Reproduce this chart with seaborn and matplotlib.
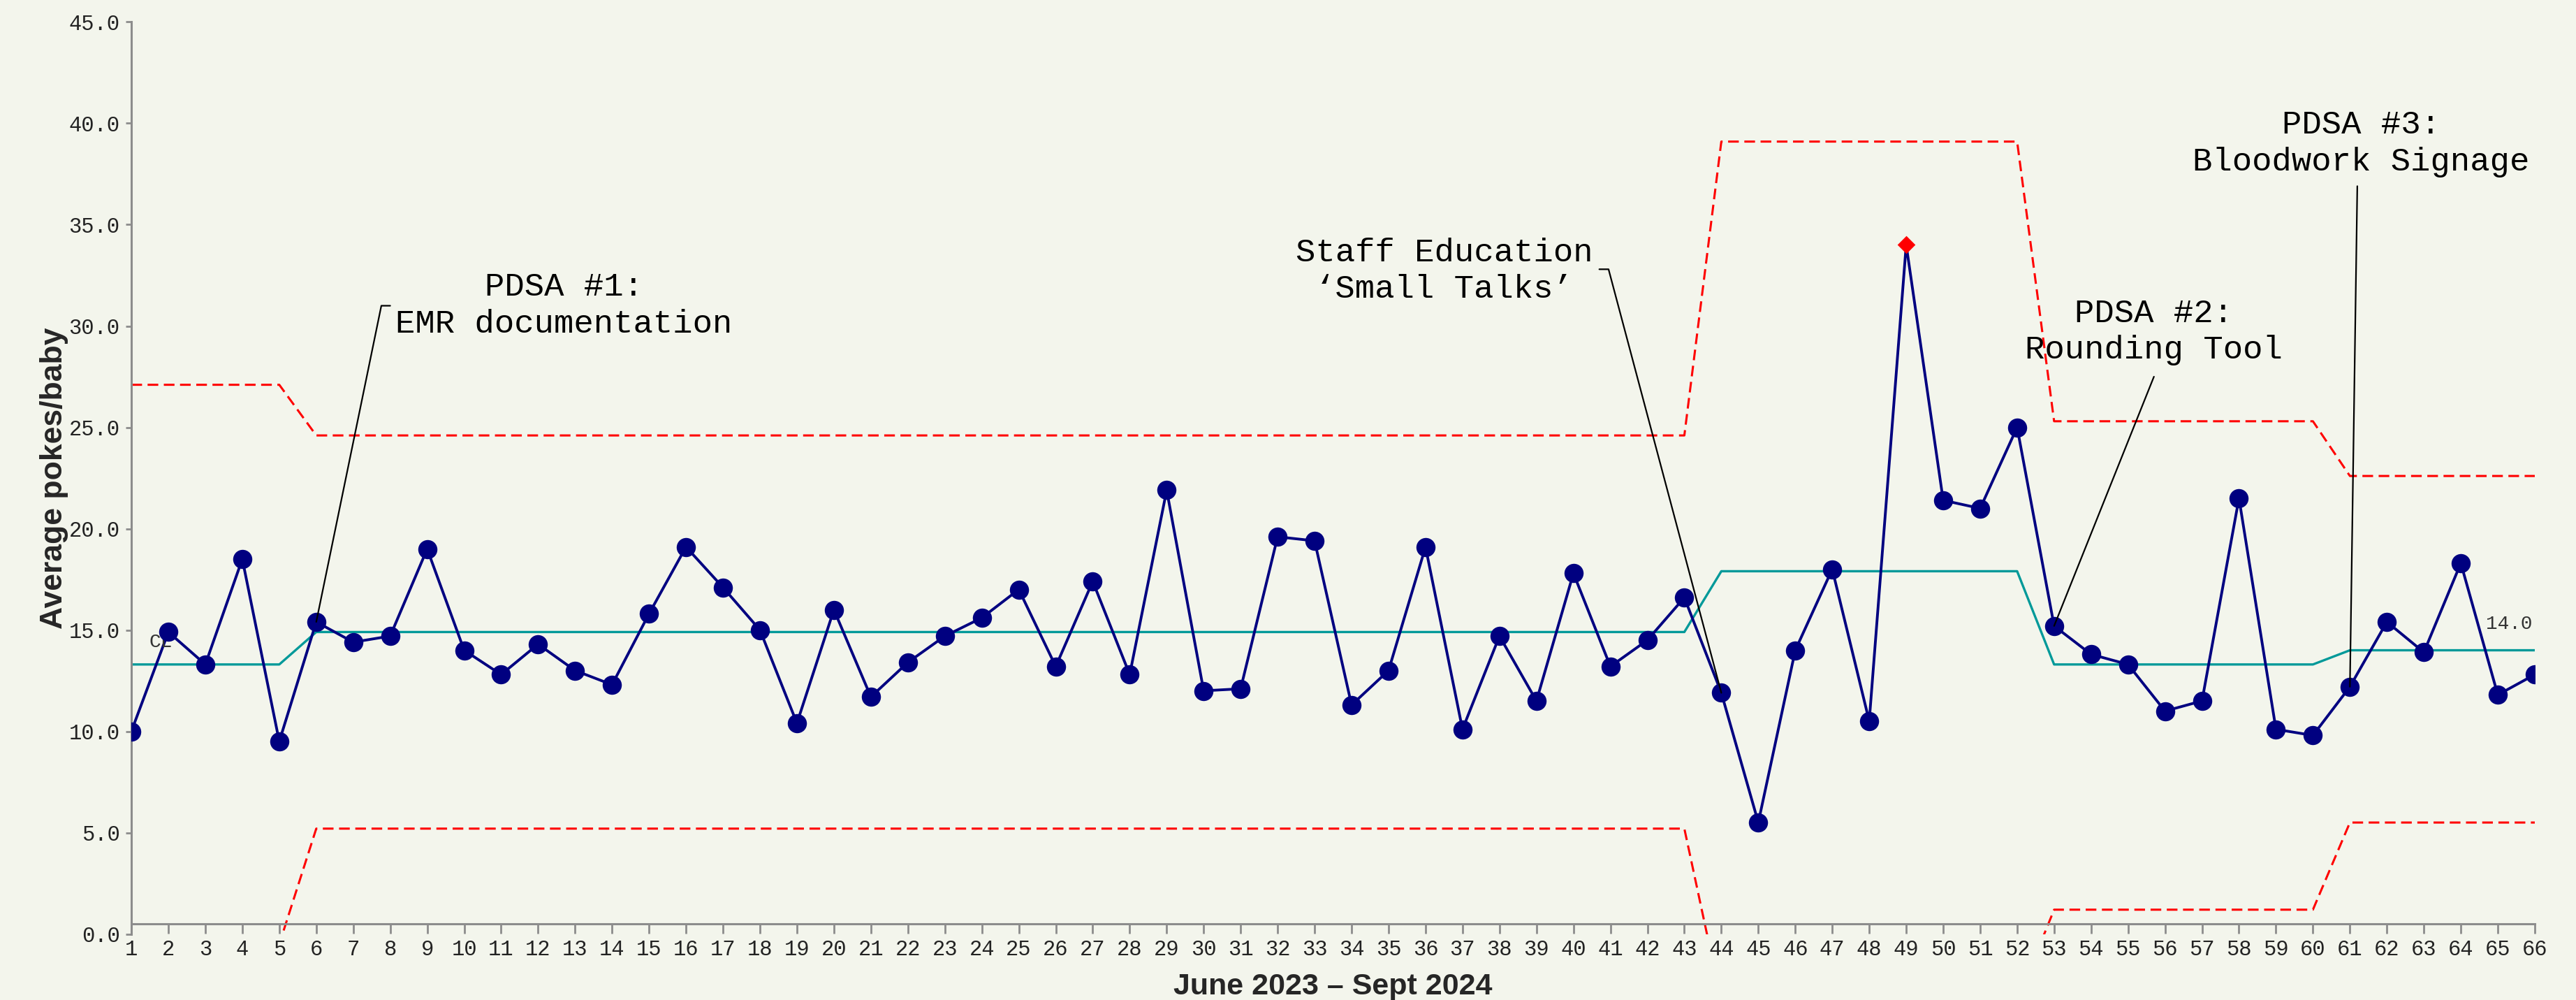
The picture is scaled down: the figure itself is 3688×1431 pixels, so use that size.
import numpy as np
import pandas as pd
import matplotlib
matplotlib.use("Agg")
import matplotlib.pyplot as plt
import seaborn as sns

# Run chart data: average pokes per baby, June 2023 - Sept 2024
weeks = list(range(1, 67))
pokes = [10.0, 14.9, 13.3, 18.5, 9.5, 15.4, 14.4, 14.7, 19.0, 14.0,
         12.8, 14.3, 13.0, 12.3, 15.8, 19.1, 17.1, 15.0, 10.4, 16.0,
         11.7, 13.4, 14.7, 15.6, 17.0, 13.2, 17.4, 12.8, 21.9, 12.0,
         12.1, 19.6, 19.4, 11.3, 13.0, 19.1, 10.1, 14.7, 11.5, 17.8,
         13.2, 14.5, 16.6, 11.9, 5.5, 14.0, 18.0, 10.5, 34.0, 21.4,
         21.0, 25.0, 15.2, 13.8, 13.3, 11.0, 11.5, 21.5, 10.1, 9.8,
         12.2, 15.4, 13.9, 18.3, 11.8, 12.8]

# control limits per phase (lengths 5, 38, 9, 8, 6)
cl = [13.3] * 5 + [14.9] * 38 + [17.9] * 9 + [13.3] * 8 + [14.0] * 6
ucl = [27.1] * 5 + [24.6] * 38 + [39.1] * 9 + [25.3] * 8 + [22.6] * 6
lcl = [-0.5] * 5 + [5.2] * 38 + [-3.3] * 9 + [1.2] * 8 + [5.5] * 6

signal_week = 49

df = pd.DataFrame({"week": weeks, "pokes": pokes, "cl": cl, "ucl": ucl, "lcl": lcl})
normal = df[df["week"] != signal_week]
signal = df[df["week"] == signal_week]

sns.set_style("ticks")
plt.rcParams["font.family"] = ["Liberation Mono", "DejaVu Sans Mono"]

bg = "#f3f5ec"
fig = plt.figure(figsize=(36.88, 14.31), dpi=100, facecolor=bg)
ax = fig.add_axes([0.051, 0.066, 0.933, 0.912])
ax.set_facecolor(bg)

# limits
sns.lineplot(data=df, x="week", y="ucl", color="#ff0000", lw=2.2, ax=ax,
             dashes=False, linestyle=(0, (5, 2.6)))
sns.lineplot(data=df, x="week", y="lcl", color="#ff0000", lw=2.2, ax=ax,
             dashes=False, linestyle=(0, (5, 2.6)))
sns.lineplot(data=df, x="week", y="cl", color="#009999", lw=2.4, ax=ax)

# main series
sns.lineplot(data=df, x="week", y="pokes", color="#000080", lw=2.8, ax=ax)
sns.scatterplot(data=normal, x="week", y="pokes", color="#000080", s=390,
                marker="o", edgecolor="#000080", linewidth=0, ax=ax, zorder=4)
sns.scatterplot(data=signal, x="week", y="pokes", color="#ff0000", s=170,
                marker="D", edgecolor="#ff0000", linewidth=0, ax=ax, zorder=4)

ax.set_xlim(1, 66)
ax.set_ylim(0, 45)
ax.set_xticks(weeks)
ax.set_yticks(np.arange(0, 46, 5))
ax.set_yticklabels([f"{v:.1f}" for v in np.arange(0, 46, 5)])

for side in ["top", "right"]:
    ax.spines[side].set_visible(False)
for side in ["left", "bottom"]:
    ax.spines[side].set_color("#8c8c8c")
    ax.spines[side].set_linewidth(2.2)
ax.spines["bottom"].set_position(("data", 0.5))
ax.tick_params(axis="x", length=10, width=2, color="#8c8c8c", labelsize=22,
               labelcolor="#222222", pad=6)
ax.tick_params(axis="y", length=6, width=2, color="#8c8c8c", labelsize=22,
               labelcolor="#222222", pad=6)

ax.set_xlabel("June 2023 \u2013 Sept 2024", fontsize=31, fontweight="bold",
              family=["Liberation Sans Narrow", "Liberation Sans"])
ax.set_ylabel("Average pokes/baby", fontsize=32, fontweight="bold",
              family=["Liberation Sans", "DejaVu Sans"])
ax.xaxis.label.set_va("center")
ax.yaxis.label.set_va("center")
ax.xaxis.set_label_coords(0.5, -0.058)
ax.yaxis.set_label_coords(-0.032, 0.5)

# centre line labels
ax.text(1.8, 14.4, "CL", fontsize=20, color="#333333", ha="center", va="center")
ax.text(65.3, 15.3, "14.0", fontsize=20, color="#333333", ha="center", va="center")

# PDSA annotations
note_kw = dict(fontsize=34, color="black", ha="center", va="center",
               linespacing=1.25)
lead_kw = dict(color="black", lw=1.6, zorder=5)

ax.text(12.7, 31.0, "PDSA #1:\nEMR documentation", **note_kw)
ax.plot([8.0, 7.76, 6], [31.0, 31.0, 15.4], **lead_kw)

ax.text(36.5, 32.7, "Staff Education\n\u2018Small Talks\u2019", **note_kw)
ax.plot([40.7, 40.95, 44], [32.8, 32.8, 11.9], **lead_kw)

ax.text(55.7, 29.7, "PDSA #2:\nRounding Tool", **note_kw)
ax.plot([55.7, 53], [27.5, 15.2], **lead_kw)

ax.text(61.3, 39.0, "PDSA #3:\nBloodwork Signage", **note_kw)
ax.plot([61.2, 61], [36.9, 12.2], **lead_kw)

fig.savefig("out.png", dpi=100, facecolor=bg)
